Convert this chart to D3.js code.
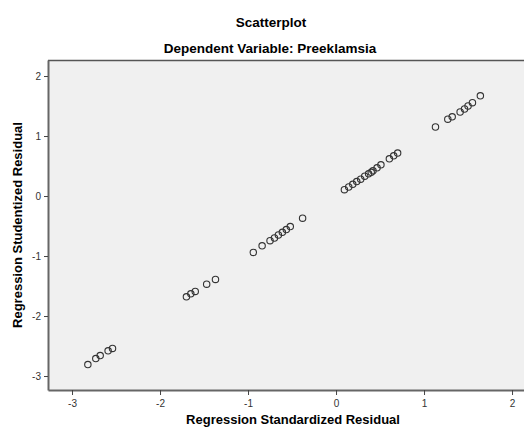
<!DOCTYPE html>
<html><head><meta charset="utf-8">
<script src="https://cdn.jsdelivr.net/npm/d3@7"></script>
<style>body{margin:0;background:#fff;} svg{display:block;font-family:"Liberation Sans",Arial,sans-serif;}</style>
</head><body>
<script>
const title = "Scatterplot";
const subtitle = "Dependent Variable: Preeklamsia";
const xTitle = "Regression Standardized Residual";
const yTitle = "Regression Studentized Residual";
const xTicks = [-3, -2, -1, 0, 1, 2];
const yTicks = [-3, -2, -1, 0, 1, 2];
const standardized = [-2.82,-2.73,-2.68,-2.59,-2.54,
  -1.70,-1.65,-1.60,-1.47,-1.37,
  -0.94,-0.84,-0.75,-0.70,-0.655,-0.61,-0.565,-0.52,-0.38,
  0.095,0.144,0.19,0.235,0.28,0.326,0.37,0.40,0.42,0.466,0.51,0.606,0.655,0.70,
  1.13,1.27,1.32,1.41,1.46,1.50,1.55,1.64];
const studentized = [-2.81,-2.71,-2.66,-2.58,-2.54,
  -1.68,-1.63,-1.59,-1.47,-1.39,
  -0.94,-0.83,-0.745,-0.70,-0.65,-0.605,-0.56,-0.51,-0.37,
  0.105,0.15,0.195,0.24,0.28,0.33,0.37,0.395,0.42,0.47,0.52,0.62,0.67,0.715,
  1.15,1.28,1.32,1.40,1.45,1.50,1.555,1.67];

const W = 524, H = 427;
const L = 48, T = 60, R = 538, B = 390;
const svg = d3.select("body").append("svg").attr("width", W).attr("height", H);
const x = d3.scaleLinear().domain([-3.273, 2.295]).range([L, R]);
const y = d3.scaleLinear().domain([-3.233, 2.267]).range([B, T]);
const fmt = d => String(d);

svg.append("rect").attr("x", L).attr("y", T).attr("width", R - L).attr("height", B - T)
  .attr("fill", "#f0f0f0");
svg.append("line").attr("x1", L).attr("x2", R).attr("y1", T + 0.5).attr("y2", T + 0.5)
  .attr("stroke", "#555").attr("stroke-width", 1.5);

const xa = svg.append("g").attr("transform", `translate(0,${B})`)
  .call(d3.axisBottom(x).tickValues(xTicks).tickSize(5).tickSizeOuter(0).tickFormat(fmt));
const ya = svg.append("g").attr("transform", `translate(${L},0)`)
  .call(d3.axisLeft(y).tickValues(yTicks).tickSize(4).tickSizeOuter(0).tickFormat(fmt));
[xa, ya].forEach(a => {
  a.select(".domain").attr("stroke", "#666").attr("stroke-width", 2);
  a.selectAll(".tick line").attr("stroke", "#444");
  a.selectAll(".tick text").attr("fill", "#333").style("font-size", "10px")
    .style("font-family", '"Liberation Sans",Arial,sans-serif');
});
xa.selectAll(".tick text").attr("dy", "0.85em");

svg.append("g").selectAll("circle").data(standardized).join("circle")
  .attr("cx", d => x(d)).attr("cy", (d, i) => y(studentized[i])).attr("r", 3.2)
  .attr("fill", "none").attr("stroke", "#333").attr("stroke-width", 1.1);

svg.append("text").attr("x", 271).attr("y", 27).attr("text-anchor", "middle")
  .style("font-weight", "bold").style("font-size", "13.5px").text(title);
svg.append("text").attr("x", 270).attr("y", 53).attr("text-anchor", "middle")
  .style("font-weight", "bold").style("font-size", "13.5px").text(subtitle);
svg.append("text").attr("x", (L + R) / 2).attr("y", 424).attr("text-anchor", "middle")
  .style("font-weight", "bold").style("font-size", "13px").text(xTitle);
svg.append("text").attr("transform", `translate(22,${(T + B) / 2}) rotate(-90)`).attr("text-anchor", "middle")
  .style("font-weight", "bold").style("font-size", "13px").text(yTitle);
</script>
</body></html>
